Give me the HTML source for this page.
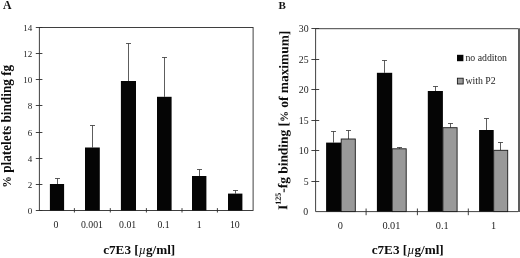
<!DOCTYPE html>
<html><head><meta charset="utf-8"><title>Figure</title>
<style>
html,body{margin:0;padding:0;background:#fff;}
body{width:520px;height:258px;overflow:hidden;}
svg{display:block;filter:blur(0.25px);font-family:"Liberation Serif","DejaVu Serif",serif;fill:#111;}
.ax{stroke:#2c2c2c;stroke-width:0.9;fill:none;}
.eb{stroke:#333;stroke-width:0.8;fill:none;}
.tl{font-size:9.5px;fill:#1c1c1c;}
.tt{font-size:13.2px;font-weight:bold;fill:#0c0c0c;}
.pl{font-size:11px;font-weight:bold;fill:#111;}
.bk{fill:#050505;}
.gy{fill:#999;stroke:#1a1a1a;stroke-width:0.9;}
</style></head><body>
<svg width="520" height="258" viewBox="0 0 520 258">
<rect width="520" height="258" fill="#fff"/>
<!-- Panel A -->
<text class="pl" style="font-size:11.8px" x="3.1" y="8.5">A</text>
<rect class="ax" x="39.35" y="27.5" width="213.75" height="183"/>
<path class="ax" d="M35.8 27.5H42.4M35.8 53.5H42.4M35.8 79.5H42.4M35.8 105.5H42.4M35.8 132.5H42.4M35.8 158.5H42.4M35.8 184.5H42.4M35.8 210.5H42.4"/>
<path class="ax" d="M74.4 208.1V212.5M110.3 208.1V212.5M146.4 208.1V212.5M182 208.1V212.5M217.4 208.1V212.5"/>
<g class="tl" style="font-size:9px" text-anchor="end">
<text x="32.3" y="30.5">14</text>
<text x="32.3" y="56.5">12</text>
<text x="32.3" y="82.5">10</text>
<text x="32.3" y="108.5">8</text>
<text x="32.3" y="135.5">6</text>
<text x="32.3" y="161.5">4</text>
<text x="32.3" y="187.5">2</text>
<text x="32.3" y="213.5">0</text>
</g>
<g class="eb">
<path d="M57.5 184V178.5M55 178.5H60"/>
<path d="M92.5 147.5V125.5M90 125.5H95"/>
<path d="M128.5 81V43.5M126 43.5H131"/>
<path d="M164.5 96.8V57.5M162 57.5H167"/>
<path d="M199.5 176V169.5M197 169.5H202"/>
<path d="M235.5 193.6V190.5M233 190.5H238"/>
</g>
<g class="bk">
<rect x="49.9" y="184" width="14.2" height="26.5"/>
<rect x="85" y="147.5" width="14.8" height="63"/>
<rect x="120.9" y="81" width="15.1" height="129.5"/>
<rect x="157" y="96.8" width="14.6" height="113.7"/>
<rect x="192" y="176" width="14.4" height="34.5"/>
<rect x="228" y="193.6" width="14.4" height="16.9"/>
</g>
<g class="tl" style="font-size:9.8px" text-anchor="middle">
<text x="56" y="228.4">0</text>
<text x="92" y="228.4">0.001</text>
<text x="127.7" y="228.4">0.01</text>
<text x="163.5" y="228.4">0.1</text>
<text x="199.3" y="228.4">1</text>
<text x="234.8" y="228.4">10</text>
</g>
<text class="tt" x="139.2" y="253.7" text-anchor="middle">c7E3 [<tspan font-style="italic" font-weight="normal" font-size="12.5">µ</tspan>g/ml]</text>
<text class="tt" style="font-size:14.3px" transform="translate(11.4,126.3) rotate(-90) scale(0.925,1)" text-anchor="middle"><tspan font-size="12.6">%</tspan> platelets binding fg</text>
<!-- Panel B -->
<text class="pl" x="278.5" y="8.8">B</text>
<path class="ax" d="M518 28.7 H315.6 V211.6 H518"/>
<path d="M519 28.2V212.1" stroke="#555" stroke-width="1.9" fill="none"/>
<path class="ax" d="M311.4 28.5H319.2M311.4 59.5H319.2M311.4 89.5H319.2M311.4 120.5H319.2M311.4 150.5H319.2M311.4 181.5H319.2"/>
<path class="ax" d="M366.1 208.5V215.2M417.4 208.5V215.2M468.3 208.5V215.2"/>
<g class="tl" style="font-size:9.8px" text-anchor="end">
<text x="308.6" y="31.8">30</text>
<text x="308.6" y="62.8">25</text>
<text x="308.6" y="92.8">20</text>
<text x="308.6" y="123.8">15</text>
<text x="308.6" y="153.8">10</text>
<text x="308.6" y="184.8">5</text>
<text x="308.2" y="214.8">0</text>
</g>
<g class="eb">
<path d="M333.5 142.6V131.5M331 131.5H336"/>
<path d="M348.5 139V130.5M346 130.5H351"/>
<path d="M384.5 72.8V60.5M382 60.5H387"/>
<path d="M399.5 148.8V147.5M397 147.5H402"/>
<path d="M435.5 91V86.5M433 86.5H438"/>
<path d="M450.5 127.7V123.5M448 123.5H453"/>
<path d="M486.5 130V118.5M484 118.5H489"/>
<path d="M500.5 150.3V142.5M498 142.5H503"/>
</g>
<g class="bk">
<rect x="326.1" y="142.6" width="15.1" height="69"/>
<rect x="376.9" y="72.8" width="15.3" height="138.8"/>
<rect x="427.8" y="91" width="15.1" height="120.6"/>
<rect x="479.1" y="130" width="14.6" height="81.6"/>
</g>
<g class="gy">
<rect x="341.2" y="139" width="14.1" height="72.6"/>
<rect x="392.2" y="148.8" width="14" height="62.8"/>
<rect x="442.9" y="127.7" width="14.2" height="83.9"/>
<rect x="493.7" y="150.3" width="14" height="61.3"/>
</g>
<g class="tl" style="font-size:10.3px" text-anchor="middle">
<text x="340.4" y="228.9">0</text>
<text x="391.4" y="228.9">0.01</text>
<text x="442.3" y="228.9">0.1</text>
<text x="493.5" y="228.9">1</text>
</g>
<text class="tt" x="407.7" y="253.9" text-anchor="middle">c7E3 [<tspan font-style="italic" font-weight="normal" font-size="12.5">µ</tspan>g/ml]</text>
<text class="tt" style="font-size:13.4px" transform="translate(287.85,120.3) rotate(-89.58)" text-anchor="middle">I<tspan font-size="8" dy="-6.5">125</tspan><tspan dy="6.5">-fg binding [</tspan><tspan font-size="11">%</tspan> of maximum]</text>
<!-- legend -->
<rect class="bk" x="457" y="54.8" width="6.4" height="6.4"/>
<text class="tl" style="font-size:9.8px" x="465.4" y="61.1">no additon</text>
<rect class="gy" x="457.4" y="78.2" width="5.8" height="5.8"/>
<text class="tl" style="font-size:9.8px" x="465.4" y="84">with P2</text>
</svg>
</body></html>
